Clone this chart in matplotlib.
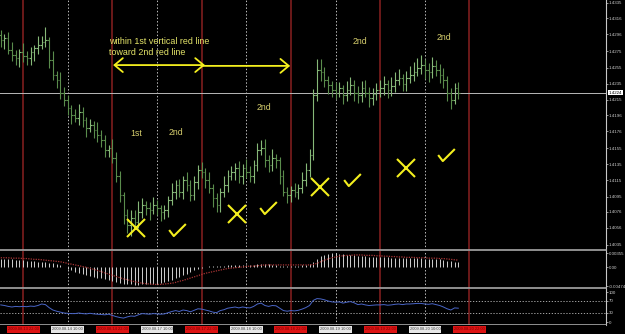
import matplotlib
matplotlib.use("Agg")
import matplotlib.pyplot as plt
import matplotlib.transforms as mtransforms
from matplotlib.path import Path

# hourly OHLC bars
opens = [1.4295, 1.4289, 1.4292, 1.4277, 1.4271, 1.4267, 1.4274, 1.4269, 1.4267, 1.4274,
         1.4279, 1.4283, 1.4287, 1.4289, 1.4264, 1.4246, 1.4239, 1.4224, 1.4215, 1.4205,
         1.4196, 1.4192, 1.4200, 1.4190, 1.4180, 1.4184, 1.4178, 1.4171, 1.4165, 1.4153,
         1.4155, 1.4143, 1.4121, 1.4097, 1.4072, 1.4060, 1.4068, 1.4063, 1.4076, 1.4085,
         1.4081, 1.4078, 1.4085, 1.4081, 1.4076, 1.4078, 1.4091, 1.4101, 1.4109, 1.4101,
         1.4115, 1.4109, 1.4097, 1.4113, 1.4128, 1.4125, 1.4115, 1.4106, 1.4093, 1.4085,
         1.4101, 1.4109, 1.4121, 1.4125, 1.4130, 1.4121, 1.4130, 1.4125, 1.4121, 1.4134,
         1.4153, 1.4155, 1.4140, 1.4134, 1.4143, 1.4140, 1.4121, 1.4101, 1.4097, 1.4103,
         1.4101, 1.4106, 1.4115, 1.4128, 1.4147, 1.4221, 1.4252, 1.4249, 1.4239, 1.4233,
         1.4227, 1.4224, 1.4229, 1.4221, 1.4227, 1.4233, 1.4224, 1.4221, 1.4229, 1.4224,
         1.4217, 1.4222, 1.4227, 1.4229, 1.4234, 1.4227, 1.4232, 1.4239, 1.4242, 1.4234,
         1.4242, 1.4246, 1.4249, 1.4254, 1.4258, 1.4252, 1.4249, 1.4257, 1.4252, 1.4246,
         1.4239, 1.4224, 1.4215, 1.4229]
closes = [1.4289, 1.4292, 1.4277, 1.4271, 1.4267, 1.4274, 1.4269, 1.4267, 1.4274, 1.4279,
          1.4283, 1.4287, 1.4289, 1.4264, 1.4246, 1.4239, 1.4224, 1.4215, 1.4205, 1.4196,
          1.4192, 1.4200, 1.4190, 1.4180, 1.4184, 1.4178, 1.4171, 1.4165, 1.4153, 1.4155,
          1.4143, 1.4121, 1.4097, 1.4072, 1.4060, 1.4068, 1.4063, 1.4076, 1.4085, 1.4081,
          1.4078, 1.4085, 1.4081, 1.4076, 1.4078, 1.4091, 1.4101, 1.4109, 1.4101, 1.4115,
          1.4109, 1.4097, 1.4113, 1.4128, 1.4125, 1.4115, 1.4106, 1.4093, 1.4085, 1.4101,
          1.4109, 1.4121, 1.4125, 1.4130, 1.4121, 1.4130, 1.4125, 1.4121, 1.4134, 1.4153,
          1.4155, 1.4140, 1.4134, 1.4143, 1.4140, 1.4121, 1.4101, 1.4097, 1.4103, 1.4101,
          1.4106, 1.4115, 1.4128, 1.4147, 1.4221, 1.4252, 1.4249, 1.4239, 1.4233, 1.4227,
          1.4224, 1.4229, 1.4221, 1.4227, 1.4233, 1.4224, 1.4221, 1.4229, 1.4224, 1.4217,
          1.4222, 1.4227, 1.4229, 1.4234, 1.4227, 1.4232, 1.4239, 1.4242, 1.4234, 1.4242,
          1.4246, 1.4249, 1.4254, 1.4258, 1.4252, 1.4249, 1.4257, 1.4252, 1.4246, 1.4239,
          1.4224, 1.4215, 1.4229, 1.4224]
highs = [1.4301, 1.4296, 1.4299, 1.4287, 1.4277, 1.4278, 1.4285, 1.4276, 1.4280, 1.4283,
         1.4294, 1.4294, 1.4305, 1.4293, 1.4275, 1.4251, 1.4249, 1.4231, 1.4221, 1.4209,
         1.4203, 1.4210, 1.4206, 1.4194, 1.4191, 1.4189, 1.4188, 1.4177, 1.4171, 1.4159,
         1.4166, 1.4150, 1.4127, 1.4101, 1.4079, 1.4078, 1.4078, 1.4089, 1.4093, 1.4090,
         1.4088, 1.4095, 1.4091, 1.4085, 1.4085, 1.4096, 1.4112, 1.4116, 1.4117, 1.4121,
         1.4125, 1.4116, 1.4121, 1.4134, 1.4138, 1.4130, 1.4125, 1.4110, 1.4100, 1.4106,
         1.4120, 1.4128, 1.4133, 1.4136, 1.4139, 1.4135, 1.4141, 1.4133, 1.4140, 1.4162,
         1.4165, 1.4166, 1.4147, 1.4154, 1.4148, 1.4144, 1.4128, 1.4107, 1.4108, 1.4112,
         1.4111, 1.4126, 1.4136, 1.4154, 1.4228, 1.4266, 1.4265, 1.4256, 1.4245, 1.4238,
         1.4237, 1.4237, 1.4233, 1.4238, 1.4243, 1.4239, 1.4232, 1.4238, 1.4240, 1.4231,
         1.4229, 1.4236, 1.4240, 1.4245, 1.4240, 1.4243, 1.4250, 1.4253, 1.4247, 1.4251,
         1.4257, 1.4262, 1.4267, 1.4271, 1.4266, 1.4260, 1.4268, 1.4264, 1.4259, 1.4254,
         1.4244, 1.4230, 1.4236, 1.4237]
lows = [1.4280, 1.4278, 1.4272, 1.4263, 1.4258, 1.4256, 1.4262, 1.4258, 1.4258, 1.4263,
        1.4272, 1.4278, 1.4280, 1.4254, 1.4239, 1.4229, 1.4216, 1.4207, 1.4196, 1.4185,
        1.4187, 1.4184, 1.4181, 1.4169, 1.4175, 1.4168, 1.4163, 1.4156, 1.4144, 1.4144,
        1.4136, 1.4113, 1.4088, 1.4061, 1.4050, 1.4046, 1.4055, 1.4056, 1.4068, 1.4072,
        1.4066, 1.4073, 1.4072, 1.4065, 1.4067, 1.4070, 1.4084, 1.4092, 1.4095, 1.4092,
        1.4102, 1.4089, 1.4091, 1.4104, 1.4118, 1.4106, 1.4099, 1.4082, 1.4076, 1.4076,
        1.4094, 1.4101, 1.4115, 1.4116, 1.4112, 1.4111, 1.4118, 1.4113, 1.4112, 1.4127,
        1.4147, 1.4132, 1.4125, 1.4127, 1.4131, 1.4110, 1.4096, 1.4087, 1.4088, 1.4094,
        1.4092, 1.4099, 1.4108, 1.4119, 1.4140, 1.4214, 1.4238, 1.4231, 1.4222, 1.4218,
        1.4216, 1.4219, 1.4210, 1.4214, 1.4221, 1.4214, 1.4211, 1.4212, 1.4218, 1.4206,
        1.4209, 1.4215, 1.4219, 1.4221, 1.4217, 1.4220, 1.4225, 1.4233, 1.4226, 1.4226,
        1.4236, 1.4238, 1.4244, 1.4247, 1.4241, 1.4237, 1.4242, 1.4244, 1.4236, 1.4230,
        1.4214, 1.4204, 1.4210, 1.4216]

macd = [0.0022, 0.0021, 0.0022, 0.0020, 0.0019, 0.0019, 0.0018, 0.0017, 0.0016, 0.0015,
        0.0014, 0.0013, 0.0013, 0.0012, 0.0010, 0.0008, 0.0005, 0.0002, -0.0003, -0.0007,
        -0.0011, -0.0014, -0.0017, -0.0020, -0.0022, -0.0024, -0.0026, -0.0028, -0.0030, -0.0032,
        -0.0035, -0.0037, -0.0039, -0.0041, -0.0042, -0.0043, -0.0044, -0.0044, -0.0043, -0.0043,
        -0.0042, -0.0042, -0.0041, -0.0040, -0.0037, -0.0034, -0.0031, -0.0028, -0.0024, -0.0020,
        -0.0016, -0.0012, -0.0008, -0.0004, -0.0001, 0.0002, 0.0003, 0.0004, 0.0003, 0.0003,
        0.0004, 0.0005, 0.0005, 0.0006, 0.0006, 0.0006, 0.0006, 0.0006, 0.0007, 0.0008,
        0.0009, 0.0009, 0.0008, 0.0007, 0.0006, 0.0004, 0.0003, 0.0003, 0.0003, 0.0003,
        0.0004, 0.0005, 0.0006, 0.0008, 0.0014, 0.0022, 0.0028, 0.0032, 0.0034, 0.0035,
        0.0035, 0.0034, 0.0033, 0.0032, 0.0031, 0.0030, 0.0029, 0.0028, 0.0028, 0.0027,
        0.0027, 0.0026, 0.0026, 0.0025, 0.0025, 0.0024, 0.0024, 0.0024, 0.0023, 0.0023,
        0.0023, 0.0023, 0.0023, 0.0023, 0.0022, 0.0022, 0.0021, 0.0021, 0.0020, 0.0019,
        0.0017, 0.0015, 0.0014, 0.0013]
signal = [0.0024, 0.0024, 0.0024, 0.0023, 0.0023, 0.0023, 0.0022, 0.0022, 0.0021, 0.0020,
          0.0020, 0.0019, 0.0018, 0.0017, 0.0016, 0.0015, 0.0014, 0.0012, 0.0010, 0.0008,
          0.0006, 0.0004, 0.0002, 0.0000, -0.0003, -0.0005, -0.0008, -0.0011, -0.0014, -0.0017,
          -0.0020, -0.0023, -0.0026, -0.0029, -0.0031, -0.0034, -0.0036, -0.0038, -0.0040, -0.0041,
          -0.0042, -0.0043, -0.0043, -0.0043, -0.0042, -0.0041, -0.0040, -0.0038, -0.0035, -0.0033,
          -0.0030, -0.0027, -0.0024, -0.0021, -0.0018, -0.0015, -0.0013, -0.0011, -0.0009, -0.0007,
          -0.0005, -0.0003, -0.0002, -0.0001, 0.0000, 0.0001, 0.0002, 0.0003, 0.0003, 0.0004,
          0.0005, 0.0006, 0.0006, 0.0006, 0.0006, 0.0006, 0.0006, 0.0006, 0.0006, 0.0006,
          0.0006, 0.0006, 0.0006, 0.0006, 0.0007, 0.0010, 0.0014, 0.0018, 0.0021, 0.0024,
          0.0026, 0.0028, 0.0029, 0.0030, 0.0030, 0.0031, 0.0031, 0.0031, 0.0030, 0.0030,
          0.0030, 0.0029, 0.0029, 0.0028, 0.0028, 0.0027, 0.0027, 0.0026, 0.0026, 0.0025,
          0.0025, 0.0025, 0.0024, 0.0024, 0.0024, 0.0023, 0.0023, 0.0023, 0.0022, 0.0022,
          0.0021, 0.0020, 0.0019, 0.0018]
rsi = [57, 55, 52, 50, 52, 51, 52, 51, 53, 52,
       55, 60, 58, 48, 40, 36, 33, 30, 29, 28,
       28, 30, 28, 27, 29, 27, 26, 25, 24, 26,
       22, 18, 15, 13, 17, 20, 19, 24, 28, 27,
       26, 28, 27, 26, 27, 31, 35, 38, 35, 40,
       38, 34, 39, 44, 43, 40, 37, 33, 31, 38,
       41, 46, 48, 50, 47, 50, 48, 47, 52, 60,
       63, 55, 52, 55, 54, 46, 38, 36, 38, 37,
       39, 43, 48, 55, 72, 78, 77, 74, 70, 67,
       66, 67, 63, 66, 68, 64, 58, 60, 57, 55,
       56, 57, 57, 58, 56, 57, 59, 60, 58, 60,
       60, 61, 62, 62, 60, 59, 61, 58, 55, 50,
       44, 40, 47, 46]

day_lines = [6, 30, 54, 78, 102, 126]
half_lines = [18, 42, 66, 90, 114]
day_labels = ["2009.08.13 22:00", "2009.08.14 22:00", "2009.08.17 22:00",
              "2009.08.18 22:00", "2009.08.19 22:00", "2009.08.20 22:00"]
half_labels = ["2009.08.14 10:00", "2009.08.17 10:00", "2009.08.18 10:00",
               "2009.08.19 10:00", "2009.08.20 10:00"]

price_ticks = [1.4335, 1.4316, 1.4296, 1.4275, 1.4255, 1.4235, 1.4215, 1.4196,
               1.4176, 1.4155, 1.4135, 1.4115, 1.4095, 1.4076, 1.4056, 1.4035]
last_price = 1.4224
macd_ticks = [0.00355, 0.0, -0.00474]
macd_tick_labels = ["0.00355", "0.00", "-0.00474"]
rsi_ticks = [100, 70, 30, 0]

# hand drawn notes on the chart
crosses_x = [36.4, 63.5, 85.8, 109.0]
crosses_y = [1.4056, 1.4073, 1.4107, 1.4130]
checks_x = [47.5, 71.8, 94.5, 119.8]
checks_y = [1.4053, 1.4081, 1.4115, 1.4146]
labels_text = ["1st", "2nd", "2nd", "2nd", "2nd"]
labels_x = [36.4, 47.1, 70.8, 96.6, 119.2]
labels_y = [1.4173, 1.4174, 1.4206, 1.4287, 1.4292]

YEL = "#f4ef1e"
GRID = "#bdbdbd"
XMAX = 162.7
W, H = 625, 334

fig = plt.figure(figsize=(6.25, 3.34), dpi=100, facecolor="black")
ax = fig.add_axes([0, 1 - 250 / H, 606 / W, 250 / H])
axm = fig.add_axes([0, 1 - 288 / H, 606 / W, 37 / H])
axr = fig.add_axes([0, 1 - 325 / H, 606 / W, 36 / H])
axd = fig.add_axes([0, 0, 606 / W, 9 / H])

for a in (ax, axm, axr, axd):
    a.set_facecolor("black")
    a.set_xlim(-0.2, XMAX)
    for s in a.spines.values():
        s.set_visible(False)
    a.tick_params(axis="x", bottom=False, labelbottom=False)
    a.yaxis.tick_right()
    a.tick_params(axis="y", colors="#cfcfcf", labelsize=3.2, length=1.5, width=0.5, pad=0.6)
    for lab in a.get_yticklabels():
        lab.set_family("Liberation Sans")

for a in (ax, axm, axr):
    a.spines["right"].set_visible(True)
    a.spines["right"].set_color("#c8c8c8")
    a.spines["right"].set_linewidth(0.8)
    a.spines["bottom"].set_visible(True)
    a.spines["bottom"].set_color("#a8a8a8")
    a.spines["bottom"].set_linewidth(1.2)
    for d in day_lines:
        a.axvline(d, color="#7d1d1d", lw=1.2, zorder=1)
    for h in half_lines:
        a.axvline(h, color=GRID, lw=0.7, ls=(0, (1.5, 2)), zorder=1)

# price bars
idx = list(range(len(closes)))
up = ["#86b878" if c >= o else "#5a8c4c" for o, c in zip(opens, closes)]
ax.vlines(idx, lows, highs, colors=up, lw=0.8, zorder=3)
ax.hlines(opens, [i - 0.45 for i in idx], idx, colors=up, lw=0.8, zorder=3)
ax.hlines(closes, idx, [i + 0.45 for i in idx], colors=up, lw=0.8, zorder=3)
ax.axhline(last_price, color="#b8b8b8", lw=0.7, zorder=2)
ax.set_ylim(1.40287, 1.43387)
ax.set_yticks(price_ticks)
ax.set_yticklabels([f"{p:.4f}" for p in price_ticks], family="Liberation Sans")
trans = mtransforms.blended_transform_factory(ax.transAxes, ax.transData)
ax.text(1.004, last_price, f"{last_price:.4f}", transform=trans, fontsize=3.2,
        family="Liberation Sans", color="black", va="center", ha="left",
        bbox=dict(boxstyle="square,pad=0.2", fc="white", ec="none"))

# notes
tfont = dict(family="Liberation Sans", va="center", ha="left")
ax.text(29.1, 1.4287, "within 1st vertical red line", color="#e6e66a", fontsize=6.4, **tfont)
ax.text(29.1, 1.4273, "toward 2nd red line", color="#e6e66a", fontsize=6.4, **tfont)
for t, x, y in zip(labels_text, labels_x, labels_y):
    ax.text(x, y, t, color="#d4cc6c", fontsize=6.3, family="Liberation Sans",
            ha="center", va="center")
ax.annotate("", xy=(30.2, 1.4258), xytext=(54.9, 1.4258),
            arrowprops=dict(arrowstyle="<->,head_length=0.6,head_width=0.5",
                            color=YEL, lw=1.3, shrinkA=0, shrinkB=0))
ax.annotate("", xy=(77.8, 1.4257), xytext=(54.2, 1.4257),
            arrowprops=dict(arrowstyle="->,head_length=0.6,head_width=0.5",
                            color=YEL, lw=1.3, shrinkA=0, shrinkB=0))
ax.plot(crosses_x, crosses_y, ls="none", marker="x", ms=13, mew=1.5, color=YEL, zorder=5)
tick_path = Path([(-0.9, 0.05), (-0.4, -0.6), (0.9, 0.7)],
                 [Path.MOVETO, Path.LINETO, Path.LINETO])
ax.plot(checks_x, checks_y, ls="none", marker=tick_path, ms=12, mew=1.5,
        mec=YEL, mfc="none", zorder=5)

# MACD
axm.vlines(idx, 0, macd, colors="#cfcfcf", lw=0.7, zorder=3)
axm.plot(idx, signal, color="#a83434", lw=0.9, ls=(0, (1, 1)), zorder=4)
axm.set_ylim(-0.0052, 0.0041)
axm.set_yticks(macd_ticks)
axm.set_yticklabels(macd_tick_labels, family="Liberation Sans")

# RSI
axr.plot(idx, rsi, color="#4a66c8", lw=0.7, zorder=3)
axr.axhline(70, color=GRID, lw=0.6, ls=(0, (1.5, 2)))
axr.axhline(30, color=GRID, lw=0.6, ls=(0, (1.5, 2)))
axr.set_ylim(-10, 110)
axr.set_yticks(rsi_ticks)
axr.set_yticklabels([str(v) for v in rsi_ticks], family="Liberation Sans")

# time scale
axd.set_ylim(0, 1)
axd.set_yticks([])
for d, lab in zip(day_lines, day_labels):
    axd.text(d, 0.5, lab, fontsize=2.9, family="Liberation Sans", color="#7a0000",
             ha="center", va="center",
             bbox=dict(boxstyle="square,pad=0.25", fc="#dd1313", ec="none"))
for h, lab in zip(half_lines, half_labels):
    axd.text(h, 0.5, lab, fontsize=2.9, family="Liberation Sans", color="#404040",
             ha="center", va="center",
             bbox=dict(boxstyle="square,pad=0.25", fc="#e6e6e6", ec="none"))

fig.savefig("out.png", dpi=100, facecolor="black")
